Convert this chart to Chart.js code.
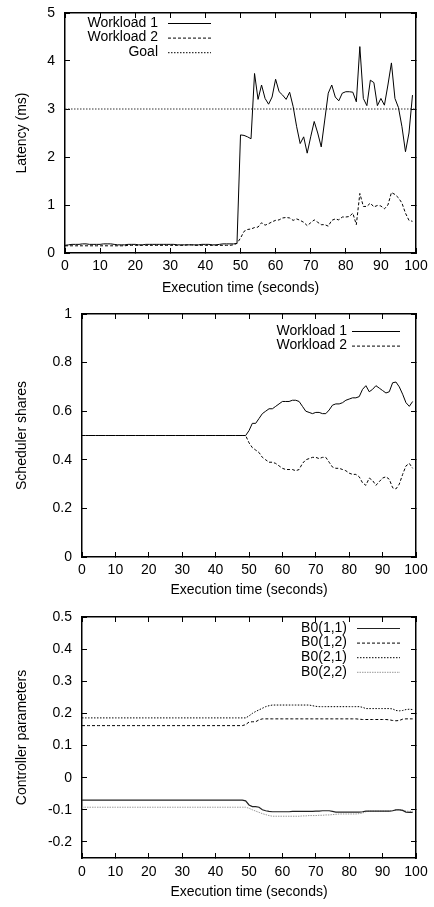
<!DOCTYPE html>
<html>
<head>
<meta charset="utf-8">
<script src="https://cdn.jsdelivr.net/npm/chart.js@4.4.1/dist/chart.umd.min.js"></script>
<style>
  html, body { margin: 0; padding: 0; background: #fff; }
  canvas { display: block; }
</style>
</head>
<body>
<canvas id="latency" width="434" height="302"></canvas>
<canvas id="shares" width="434" height="302"></canvas>
<canvas id="params" width="434" height="303"></canvas>
<script>
// sample times (one per second)
const seconds = Array.from({ length: 100 }, (_, i) => i);

// latency (ms)
const latencyW1 = [
  0.16,0.17,0.18,0.18,0.18,0.19,0.19,0.18,0.18,0.18,
  0.18,0.19,0.19,0.19,0.18,0.17,0.17,0.17,0.18,0.18,
  0.18,0.17,0.17,0.18,0.18,0.18,0.18,0.18,0.18,0.18,
  0.18,0.18,0.17,0.17,0.17,0.17,0.17,0.17,0.17,0.18,
  0.18,0.18,0.17,0.17,0.18,0.19,0.19,0.19,0.19,0.20,
  2.46,2.45,2.42,2.38,3.74,3.20,3.50,3.22,3.10,3.25,
  3.62,3.36,3.29,3.20,3.35,3.05,2.63,2.28,2.42,2.08,
  2.42,2.74,2.50,2.21,2.77,3.33,3.50,3.25,3.17,3.33,
  3.36,3.36,3.35,3.15,4.30,3.22,3.07,3.60,3.55,3.07,
  3.22,3.08,3.50,3.96,3.22,3.03,2.63,2.11,2.50,3.29
];
const latencyW2 = [
  0.15,0.15,0.15,0.15,0.15,0.15,0.15,0.15,0.15,0.15,
  0.15,0.15,0.15,0.15,0.15,0.15,0.15,0.15,0.16,0.16,
  0.16,0.16,0.16,0.16,0.16,0.16,0.16,0.16,0.16,0.16,
  0.16,0.16,0.16,0.16,0.16,0.17,0.17,0.16,0.16,0.16,
  0.16,0.16,0.16,0.16,0.16,0.16,0.16,0.16,0.17,0.20,
  0.31,0.45,0.49,0.50,0.53,0.54,0.63,0.58,0.61,0.65,
  0.68,0.69,0.73,0.74,0.73,0.68,0.71,0.68,0.64,0.57,
  0.63,0.69,0.64,0.59,0.59,0.56,0.68,0.71,0.69,0.75,
  0.75,0.76,0.83,0.59,1.24,0.97,0.97,1.04,0.96,0.99,
  0.98,0.92,1.00,1.26,1.22,1.15,1.04,0.83,0.68,0.66
];
const goalLatency = 3;

// scheduler shares
const sharesW1 = [
  0.5,0.5,0.5,0.5,0.5,0.5,0.5,0.5,0.5,0.5,
  0.5,0.5,0.5,0.5,0.5,0.5,0.5,0.5,0.5,0.5,
  0.5,0.5,0.5,0.5,0.5,0.5,0.5,0.5,0.5,0.5,
  0.5,0.5,0.5,0.5,0.5,0.5,0.5,0.5,0.5,0.5,
  0.5,0.5,0.5,0.5,0.5,0.5,0.5,0.5,0.5,0.5,
  0.52,0.55,0.55,0.57,0.59,0.60,0.61,0.61,0.62,0.63,
  0.64,0.64,0.64,0.645,0.645,0.64,0.62,0.60,0.595,0.59,
  0.595,0.595,0.59,0.59,0.605,0.625,0.63,0.63,0.635,0.645,
  0.65,0.655,0.655,0.66,0.69,0.705,0.68,0.69,0.705,0.695,
  0.685,0.675,0.68,0.717,0.72,0.70,0.67,0.635,0.62,0.64
];
const sharesW2 = [
  0.5,0.5,0.5,0.5,0.5,0.5,0.5,0.5,0.5,0.5,
  0.5,0.5,0.5,0.5,0.5,0.5,0.5,0.5,0.5,0.5,
  0.5,0.5,0.5,0.5,0.5,0.5,0.5,0.5,0.5,0.5,
  0.5,0.5,0.5,0.5,0.5,0.5,0.5,0.5,0.5,0.5,
  0.5,0.5,0.5,0.5,0.5,0.5,0.5,0.5,0.5,0.5,
  0.47,0.45,0.44,0.43,0.41,0.40,0.39,0.39,0.385,0.375,
  0.365,0.36,0.36,0.36,0.355,0.36,0.385,0.40,0.405,0.41,
  0.41,0.405,0.41,0.41,0.39,0.37,0.365,0.365,0.36,0.355,
  0.345,0.34,0.34,0.33,0.305,0.295,0.325,0.315,0.295,0.31,
  0.325,0.33,0.32,0.285,0.28,0.30,0.34,0.375,0.385,0.365
];

// controller parameters
const b011 = [
  -0.07,-0.07,-0.07,-0.07,-0.07,-0.07,-0.07,-0.07,-0.07,-0.07,
  -0.07,-0.07,-0.07,-0.07,-0.07,-0.07,-0.07,-0.07,-0.07,-0.07,
  -0.07,-0.07,-0.07,-0.07,-0.07,-0.07,-0.07,-0.07,-0.07,-0.07,
  -0.07,-0.07,-0.07,-0.07,-0.07,-0.07,-0.07,-0.07,-0.07,-0.07,
  -0.07,-0.07,-0.07,-0.07,-0.07,-0.07,-0.07,-0.07,-0.07,-0.072,
  -0.085,-0.09,-0.09,-0.092,-0.1,-0.103,-0.105,-0.106,-0.106,-0.106,
  -0.106,-0.106,-0.106,-0.105,-0.105,-0.105,-0.105,-0.105,-0.105,-0.105,
  -0.104,-0.104,-0.103,-0.103,-0.103,-0.105,-0.107,-0.107,-0.107,-0.107,
  -0.107,-0.107,-0.107,-0.107,-0.106,-0.104,-0.104,-0.104,-0.104,-0.104,
  -0.104,-0.104,-0.104,-0.103,-0.1,-0.1,-0.102,-0.107,-0.108,-0.108
];
const b012 = [
  0.162,0.162,0.162,0.162,0.162,0.162,0.162,0.162,0.162,0.162,
  0.162,0.162,0.162,0.162,0.162,0.162,0.162,0.162,0.162,0.162,
  0.162,0.162,0.162,0.162,0.162,0.162,0.162,0.162,0.162,0.162,
  0.162,0.162,0.162,0.162,0.162,0.162,0.162,0.162,0.162,0.162,
  0.162,0.162,0.162,0.162,0.162,0.162,0.162,0.162,0.162,0.165,
  0.173,0.174,0.174,0.18,0.183,0.183,0.183,0.183,0.183,0.183,
  0.183,0.183,0.183,0.183,0.183,0.183,0.183,0.183,0.183,0.183,
  0.183,0.183,0.183,0.183,0.183,0.183,0.183,0.183,0.183,0.183,
  0.183,0.183,0.183,0.182,0.181,0.181,0.181,0.181,0.181,0.181,
  0.181,0.181,0.18,0.178,0.177,0.178,0.182,0.183,0.183,0.183
];
const b021 = [
  0.186,0.186,0.186,0.186,0.186,0.186,0.186,0.186,0.186,0.186,
  0.186,0.186,0.186,0.186,0.186,0.186,0.186,0.186,0.186,0.186,
  0.186,0.186,0.186,0.186,0.186,0.186,0.186,0.186,0.186,0.186,
  0.186,0.186,0.186,0.186,0.186,0.186,0.186,0.186,0.186,0.186,
  0.186,0.186,0.186,0.186,0.186,0.186,0.186,0.186,0.186,0.186,
  0.192,0.2,0.206,0.211,0.216,0.221,0.224,0.226,0.226,0.226,
  0.226,0.226,0.226,0.226,0.226,0.226,0.226,0.226,0.226,0.224,
  0.222,0.221,0.221,0.221,0.221,0.221,0.221,0.221,0.221,0.221,
  0.221,0.221,0.221,0.221,0.219,0.215,0.215,0.215,0.215,0.215,
  0.215,0.215,0.215,0.214,0.209,0.208,0.209,0.212,0.213,0.212
];
const b022 = [
  -0.092,-0.092,-0.092,-0.092,-0.092,-0.092,-0.092,-0.092,-0.092,-0.092,
  -0.092,-0.092,-0.092,-0.092,-0.092,-0.092,-0.092,-0.092,-0.092,-0.092,
  -0.092,-0.092,-0.092,-0.092,-0.092,-0.092,-0.092,-0.092,-0.092,-0.092,
  -0.092,-0.092,-0.092,-0.092,-0.092,-0.092,-0.092,-0.092,-0.092,-0.092,
  -0.092,-0.092,-0.092,-0.092,-0.092,-0.092,-0.092,-0.092,-0.092,-0.092,
  -0.095,-0.1,-0.104,-0.108,-0.112,-0.115,-0.118,-0.12,-0.12,-0.12,
  -0.12,-0.12,-0.12,-0.12,-0.12,-0.12,-0.119,-0.119,-0.118,-0.118,
  -0.118,-0.117,-0.117,-0.116,-0.116,-0.115,-0.114,-0.113,-0.113,-0.113,
  -0.113,-0.113,-0.113,-0.112,-0.11,-0.106,-0.104,-0.104,-0.104,-0.104,
  -0.104,-0.104,-0.104,-0.103,-0.1,-0.099,-0.101,-0.104,-0.105,-0.104
];

const FONT = { family: '"Liberation Sans", Arial, Helvetica, sans-serif', size: 14 };

function points(values) {
  return seconds.map((s, i) => ({ x: s, y: values[i] }));
}

// keep the plot box where we put it (labels may hang outside)
function noPadding(s) {
  s.paddingLeft = 0;
  s.paddingRight = 0;
  s.paddingTop = 0;
  s.paddingBottom = 0;
}

// legend drawn gnuplot-style: text right aligned, line sample to its right
const lineLegend = {
  id: "lineLegend",
  afterDatasetsDraw(chart, args, opts) {
    const ctx = chart.ctx;
    ctx.save();
    ctx.font = FONT.size + "px " + FONT.family;
    ctx.textAlign = "right";
    ctx.textBaseline = "middle";
    chart.data.datasets.forEach((ds, i) => {
      const y = opts.top + i * opts.step;
      ctx.fillStyle = "#000";
      ctx.setLineDash([]);
      ctx.fillText(ds.label, opts.textRight, y);
      ctx.strokeStyle = ds.borderColor;
      ctx.lineWidth = ds.borderWidth;
      ctx.setLineDash(ds.borderDash || []);
      ctx.beginPath();
      ctx.moveTo(opts.from, y + 0.5);
      ctx.lineTo(opts.to, y + 0.5);
      ctx.stroke();
    });
    ctx.restore();
  }
};

function makeChart(id, datasets, y, box, legend) {
  const tickGrid = { drawOnChartArea: false, drawTicks: true, tickLength: -5, color: "#000", tickColor: "#000", lineWidth: 1 };
  const border = { display: true, color: "#000", width: 1.5 };
  const config = {
    type: "line",
    data: { datasets: datasets },
    options: {
      responsive: false,
      animation: false,
      devicePixelRatio: 1,
      layout: { padding: { left: 0, top: box.top, right: 18, bottom: 0 } },
      elements: { point: { radius: 0 }, line: { tension: 0 } },
      plugins: { legend: { display: false }, tooltip: { enabled: false }, lineLegend: legend },
      scales: {
        x: {
          type: "linear", position: "bottom", min: 0, max: 100,
          ticks: { stepSize: 10, padding: box.xPad, color: "#000", font: FONT, maxRotation: 0 },
          grid: tickGrid, border: border,
          title: { display: true, text: "Execution time (seconds)", color: "#000", font: FONT, padding: { top: 0, bottom: box.titlePad } },
          afterFit: s => { noPadding(s); s.height = box.xHeight; }
        },
        x2: {
          type: "linear", position: "top", min: 0, max: 100,
          ticks: { stepSize: 10, display: false },
          grid: tickGrid, border: border,
          afterFit: s => { noPadding(s); s.height = 0; }
        },
        y: {
          type: "linear", position: "left", min: y.min, max: y.max,
          ticks: {
            stepSize: y.step, padding: 15, color: "#000", font: FONT, includeBounds: false,
            callback: v => String(Number(v.toFixed(2)))
          },
          grid: tickGrid, border: border,
          title: { display: true, text: y.title, color: "#000", font: FONT, padding: { top: 14, bottom: 0 } },
          afterFit: s => { noPadding(s); s.width = box.yWidth; }
        },
        y2: {
          type: "linear", position: "right", min: y.min, max: y.max,
          ticks: { stepSize: y.step, display: false, includeBounds: false },
          grid: tickGrid, border: border,
          afterFit: s => { noPadding(s); s.width = 0; }
        }
      }
    },
    plugins: [lineLegend]
  };
  return new Chart(document.getElementById(id).getContext("2d"), config);
}

makeChart("latency", [
  { label: "Workload 1", data: points(latencyW1), borderColor: "#000", borderWidth: 1, borderDash: [] },
  { label: "Workload 2", data: points(latencyW2), borderColor: "#000", borderWidth: 1, borderDash: [3, 2] },
  { label: "Goal", data: [{ x: 0, y: goalLatency }, { x: 100, y: goalLatency }], borderColor: "#333", borderWidth: 1.2, borderDash: [1.5, 1.5] }
], { min: 0, max: 5, step: 1, title: "Latency (ms)" },
   { top: 13, xHeight: 49, xPad: 10, titlePad: 5, yWidth: 65 },
   { top: 23, step: 14.6, textRight: 158, from: 168, to: 211 });

makeChart("shares", [
  { label: "Workload 1", data: points(sharesW1), borderColor: "#000", borderWidth: 1, borderDash: [] },
  { label: "Workload 2", data: points(sharesW2), borderColor: "#000", borderWidth: 1, borderDash: [3, 2] }
], { min: 0, max: 1, step: 0.2, title: "Scheduler shares" },
   { top: 12, xHeight: 47, xPad: 10, titlePad: 5, yWidth: 82 },
   { top: 29, step: 14.6, textRight: 347, from: 352, to: 400 });

makeChart("params", [
  { label: "B0(1,1)", data: points(b011), borderColor: "#222", borderWidth: 1.2, borderDash: [] },
  { label: "B0(1,2)", data: points(b012), borderColor: "#000", borderWidth: 1, borderDash: [3, 2] },
  { label: "B0(2,1)", data: points(b021), borderColor: "#000", borderWidth: 1, borderDash: [1.5, 1.5] },
  { label: "B0(2,2)", data: points(b022), borderColor: "#999", borderWidth: 1, borderDash: [1.5, 1] }
], { min: -0.25, max: 0.5, step: 0.1, title: "Controller parameters" },
   { top: 13, xHeight: 49, xPad: 11, titlePad: 6, yWidth: 82 },
   { top: 24, step: 14.6, textRight: 347, from: 357, to: 400 });
</script>
</body>
</html>
